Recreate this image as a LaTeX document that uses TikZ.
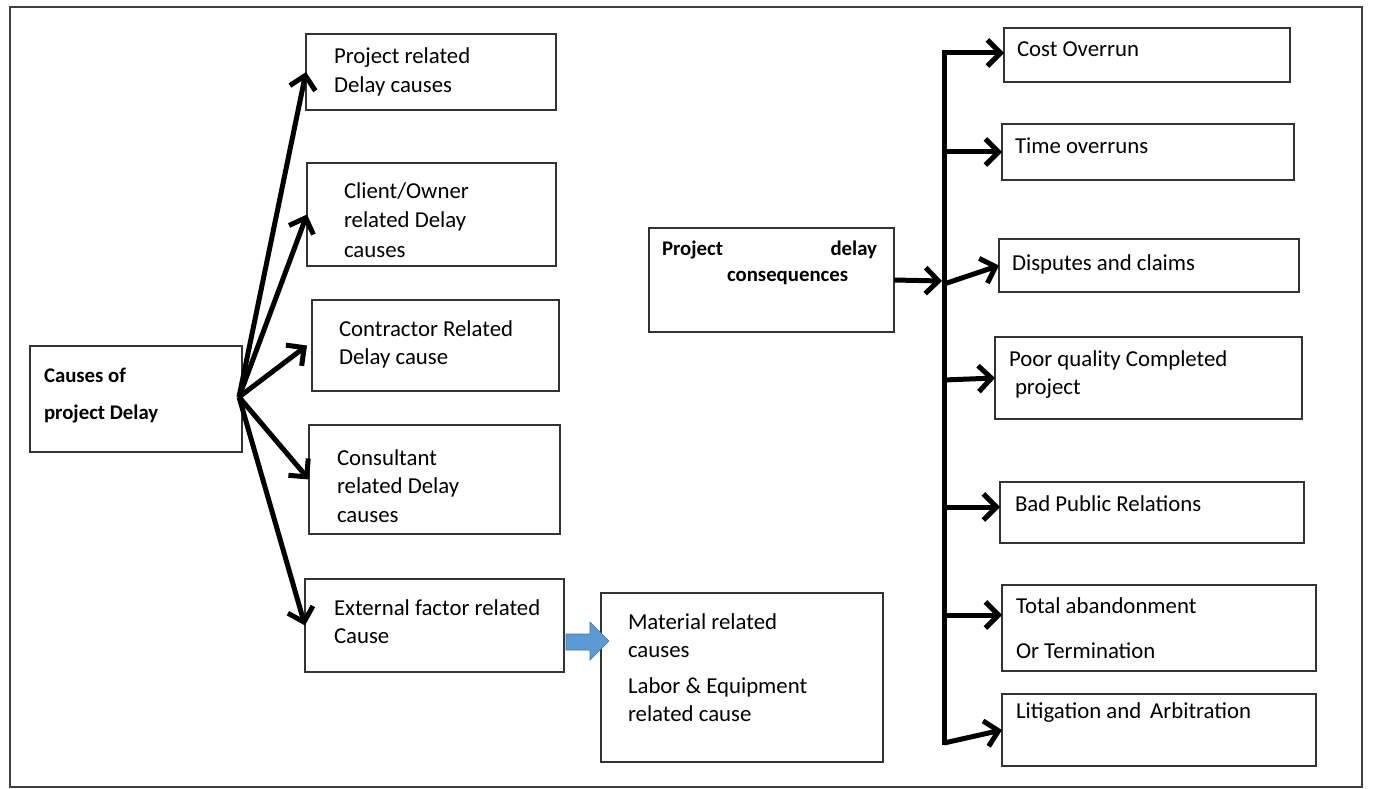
\documentclass[tikz,border=0pt]{standalone}
\usepackage{fontspec}
\setmainfont{Carlito}
\usetikzlibrary{arrows.meta}
\definecolor{boxgray}{HTML}{333333}
\definecolor{framegray}{HTML}{404040}
\definecolor{blockblue}{HTML}{5B9BD5}
\definecolor{blockedge}{HTML}{41719C}
% width, height, left offset, first baseline, baselineskip, lines
\newcommand\bt[6]{\parbox[c][#2pt][t]{#1pt}{\parindent=0pt\leftskip=#3pt\rightskip=0pt plus 1fil\setlength\baselineskip{#5pt}\rule{0pt}{#4pt}#6\par}}
\begin{document}
\begin{tikzpicture}[x=1pt,y=-1pt,
  box/.style={draw=boxgray, line width=1.4pt, inner sep=0pt, outer sep=0pt, anchor=north west,
    font=\fontsize{22.8}{28}\selectfont},
  boldbox/.style={box, font=\bfseries\fontsize{20.8}{26}\selectfont},
  arr/.style={line width=5pt, line join=miter, -{Straight Barb[length=13pt,width=26pt,line width=5pt]}}]
\useasboundingbox (0,0) rectangle (1374,789);
\draw[framegray, line width=2pt] (10,7) rectangle (1362,787);

% left column
\node[boldbox] (causes) at (30,346) {\bt{212}{106}{14}{36}{37}{Causes of\\project Delay}};
\node[box] (proj) at (306,34) {\bt{250}{76}{28}{30}{29}{Project related\\Delay causes}};
\node[box] (client) at (307,163) {\bt{249}{103}{37}{35}{29.5}{Client/Owner\\related Delay\\causes}};
\node[box] (contr) at (312,300) {\bt{247}{91}{27}{36}{28}{Contractor Related\\Delay cause}};
\node[box] (consult) at (309,425) {\bt{251}{109}{28}{40}{28.5}{Consultant\\related Delay\\causes}};
\node[box] (ext) at (305,579) {\bt{259}{93}{29}{36}{28}{External factor related\\Cause}};
\node[box] (mat) at (601,593) {\bt{282}{169}{27}{36}{28}{Material related\\causes\\[8pt]Labor \& Equipment\\related cause}};

% middle
\node[boldbox] (cons) at (649,228) {\bt{245}{104}{13}{27}{26}{\makebox[215pt]{Project\hfill delay}\\\hspace*{65pt}consequences}};

% right column
\node[box] (cost) at (1004,28) {\bt{286}{54}{13}{29}{28}{Cost Overrun}};
\node[box] (time) at (1002,124) {\bt{292}{56}{13}{29}{28}{Time overruns}};
\node[box] (disp) at (999,239) {\bt{300}{53}{13}{31}{28}{Disputes and claims}};
\node[box] (poor) at (995,337) {\bt{307}{82}{14}{29}{28}{Poor quality Completed\\\hspace*{6pt}project}};
\node[box] (bad) at (1000,482) {\bt{304}{61}{15}{29}{28}{Bad Public Relations}};
\node[box] (total) at (1002,585) {\bt{314}{86}{14}{28}{45}{Total abandonment\\Or Termination}};
\node[box] (lit) at (1002,694) {\bt{314}{72}{14}{24}{28}{Litigation and\, Arbitration}};

% fan of arrows
\coordinate (o) at (239,397);
\draw[arr] (o) -- (proj.west);
\draw[arr] (o) -- (client.west);
\draw[arr] (o) -- ([xshift=-5pt]contr.west);
\draw[arr] (o) -- (consult.west);
\draw[arr] (o) -- (ext.west);

% block arrow
\fill[blockblue, draw=blockedge, line width=0.6pt]
  (566,634) -- (590,634) -- (590,622) -- (609,641) -- (590,660) -- (590,650) -- (566,650) -- cycle;

% spine
\coordinate (stop) at (944,53);
\coordinate (sbot) at (944,745);
\coordinate (s2) at (944,152);
\coordinate (sin) at (942,281);
\coordinate (s3) at (944,284);
\coordinate (s4) at (944,380);
\coordinate (s5) at (944,507);
\coordinate (s6) at (944,615);
\coordinate (s7) at (944,743);
\draw[arr] (sbot) -- (stop) -- (stop -| cost.west);
\draw[arr] (s2) -- (s2 -| time.west);
\draw[arr] (cons.east) -- (sin);
\draw[arr] (s3) -- (disp.west);
\draw[arr] (s4) -- (poor.west);
\draw[arr] (s5) -- (s5 -| bad.west);
\draw[arr] (s6) -- (s6 -| total.west);
\draw[arr] (s7) -- (lit.west);
\end{tikzpicture}
\end{document}
